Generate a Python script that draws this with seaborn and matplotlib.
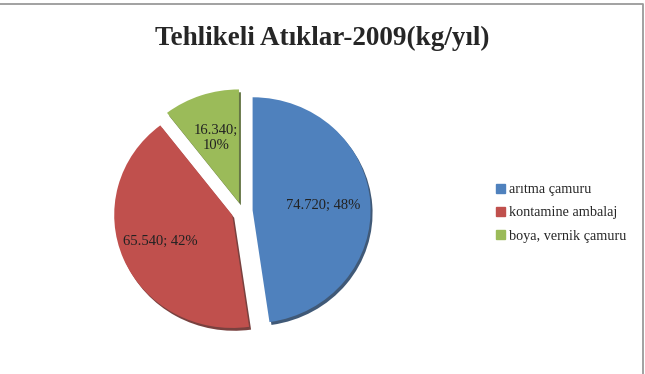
import matplotlib
matplotlib.use("Agg")
import matplotlib.pyplot as plt
import matplotlib.patches as mpatches
from matplotlib.lines import Line2D
import seaborn as sns

# data
names = ["arıtma çamuru", "kontamine ambalaj", "boya, vernik çamuru"]
values = [74720, 65540, 16340]
colors = ["#4F81BD", "#C0504D", "#9BBB59"]
title = "Tehlikeli Atıklar-2009(kg/yıl)"

sns.set_theme(style="white")
plt.rcParams["font.family"] = ["Liberation Serif", "DejaVu Serif"]

total = sum(values)
labels = []
for v in values:
    val = f"{v:,}".replace(",", ".")
    pct = round(100 * v / total)
    sep = ";\n" if pct < 15 else "; "
    labels.append(f"{val}{sep}{pct}%")

fig = plt.figure(figsize=(6.45, 3.74), dpi=100)

# chart border (top and right only visible)
bx, by = 643 / 645, 1 - 3.5 / 374
fig.add_artist(Line2D([0, bx, bx], [by, by, 0], transform=fig.transFigure,
                      color="#9a9a9a", linewidth=1.3))

# pie axes: 118 px per unit horizontally, 113 px vertically
lim = 1.3
w_px, h_px = 2 * lim * 118, 2 * lim * 113
cx, cy = 242, 211
ax = fig.add_axes([(cx - w_px / 2) / 645, (374 - cy - h_px / 2) / 374, w_px / 645, h_px / 374])

wedges, texts = ax.pie(values, colors=colors, labels=labels, labeldistance=0.6,
                       startangle=90, counterclock=False, explode=[0.09, 0.09, 0.08],
                       wedgeprops=dict(linewidth=0),
                       shadow=dict(ox=0.012, oy=-0.018, shade=0.45, alpha=0.9),
                       textprops=dict(fontsize=10.5, color="#222222", ha="center", va="center"))
for t in texts:
    t.set_horizontalalignment("center")
texts[1].set_x(texts[1].get_position()[0] - 0.06)
ax.set_aspect("auto")
ax.set_xlim(-lim, lim)
ax.set_ylim(-lim, lim)
ax.axis("off")

fig.text(0.5, 1 - 38 / 374, title, ha="center", va="center",
         fontsize=19.5, fontweight="bold")

handles = [mpatches.Patch(color=c, label=n) for c, n in zip(colors, names)]
fig.legend(handles=handles, loc="center left", bbox_to_anchor=(489 / 645, 1 - 213 / 374),
           frameon=False, fontsize=10.3, handlelength=0.6, handleheight=0.6,
           handletextpad=0.3, labelspacing=0.7, borderpad=0)

fig.savefig("out.png", dpi=100)
